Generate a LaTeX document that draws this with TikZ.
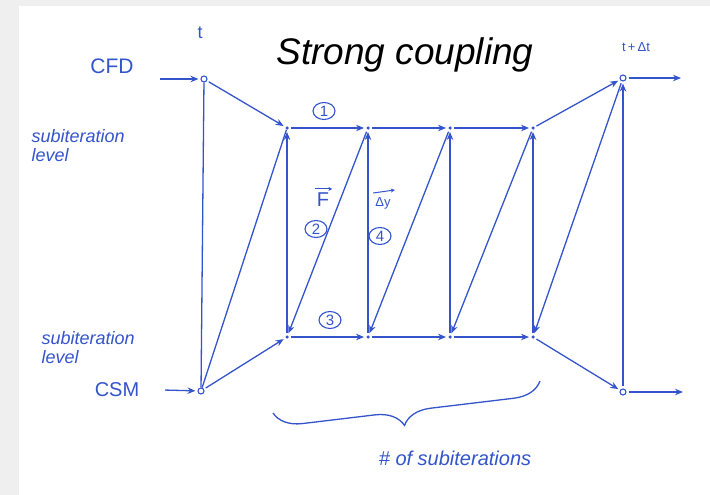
\documentclass[tikz,border=0pt]{standalone}
\usepackage{fontspec}
\setmainfont{Liberation Sans}
\usetikzlibrary{arrows.meta, shapes.geometric, decorations.pathreplacing}
\definecolor{inkblue}{RGB}{52,84,204}
\definecolor{paper}{RGB}{239,239,239}

\begin{document}
\begin{tikzpicture}[x=1pt, y=-1pt, every node/.style={text=inkblue, font=\fontsize{14}{16}\selectfont}]
  \tikzset{tmark/.style={circle, draw=inkblue, line width=1.1pt, inner sep=0pt, minimum size=6pt},
           sub/.style={circle, fill=inkblue, inner sep=0pt, minimum size=3.5pt},
           flow/.style={-{Stealth[length=8pt, width=6.5pt]}, draw=inkblue, line width=1.3pt,
                        shorten >=2pt, shorten <=2pt},
           link/.style={draw=inkblue, line width=1.3pt},
           vecbar/.style={-{Stealth[length=4pt, width=4pt]}, draw=inkblue, line width=1pt},
           num/.style={ellipse, draw=inkblue, line width=1.1pt, inner sep=0pt,
                       minimum width=22pt, minimum height=17pt, font=\fontsize{15}{16}\selectfont},
           hand/.style={font=\fontsize{18}{19}\selectfont\itshape, align=left}}
  \fill[paper] (0,0) rectangle (710,495);
  \fill[white] (19,6) rectangle (710,495);
  \useasboundingbox (0,0) rectangle (710,495);

  \node[font=\fontsize{37}{40}\selectfont\itshape, text=black, anchor=base] (title) at (405,65) {Strong coupling};

  % time levels
  \node[tmark] (t)   at (204,79)  {};
  \node[tmark] (csm) at (201,391) {};
  \node[tmark] (tdt) at (623,78)  {};
  \node[tmark] (end) at (623,392) {};
  \foreach \i/\x in {1/287, 2/368, 3/450, 4/533} {
    \node[sub] (p\i) at (\x,128) {};
    \node[sub] (q\i) at (\x,337) {};
  }
  \coordinate (cfdin)  at (158,79);
  \coordinate (csmin)  at (163,390);
  \coordinate (cfdout) at (683,78);
  \coordinate (csmout) at (685,392);

  \foreach \a/\b in {cfdin/t, t/p1, p1/p2, p2/p3, p3/p4, p4/tdt, tdt/cfdout,
                     csmin/csm, csm/q1, q1/q2, q2/q3, q3/q4, q4/end, end/csmout,
                     q1/p1, q2/p2, q3/p3, q4/p4, end/tdt,
                     p2/q1, p3/q2, p4/q3, tdt/q4}
    \draw[flow] (\a) -- (\b);
  \draw[link] (t) -- (csm);
  \draw[link] (csm) -- (p1);

  % labels
  \node[font=\fontsize{18}{19}\selectfont] (tlab) at (200,33) {t};
  \node[font=\fontsize{13}{14}\selectfont] (tdtlab) at (636,47) {t\,+\,Δt};
  \node[font=\fontsize{21}{22}\selectfont] (cfd) at (112,66) {CFD};
  \node[font=\fontsize{20}{21}\selectfont] (csmlab) at (117,390) {CSM};
  \node[hand, anchor=north west] (lvltop) at (28,126) {subiteration\\level};
  \node[hand, anchor=north west] (lvlbot) at (38,328) {subiteration\\level};
  \node[num] (n1) at (324,111) {1};
  \node[num] (n2) at (316,229) {2};
  \node[num] (n3) at (330,320) {3};
  \node[num] (n4) at (380,236) {4};
  \node[font=\fontsize{20}{22}\selectfont, inner sep=1pt] (force) at (323,200) {F};
  \draw[vecbar] ([xshift=-1pt, yshift=3pt]force.north west) -- ([xshift=2pt, yshift=3pt]force.north east);
  \node[font=\fontsize{13}{14}\selectfont, inner sep=1pt] (disp) at (383,203) {Δy};
  \draw[vecbar] ([xshift=-1pt, yshift=3pt]disp.north west) -- ([xshift=3pt, yshift=6pt]disp.north east);

  \draw[link, decorate, decoration={brace, amplitude=28pt, aspect=0.52}] (540,381) -- (273,413);
  \node[hand, font=\fontsize{20}{21}\selectfont\itshape] (count) at (455,458) {\# of subiterations};
\end{tikzpicture}
\end{document}
